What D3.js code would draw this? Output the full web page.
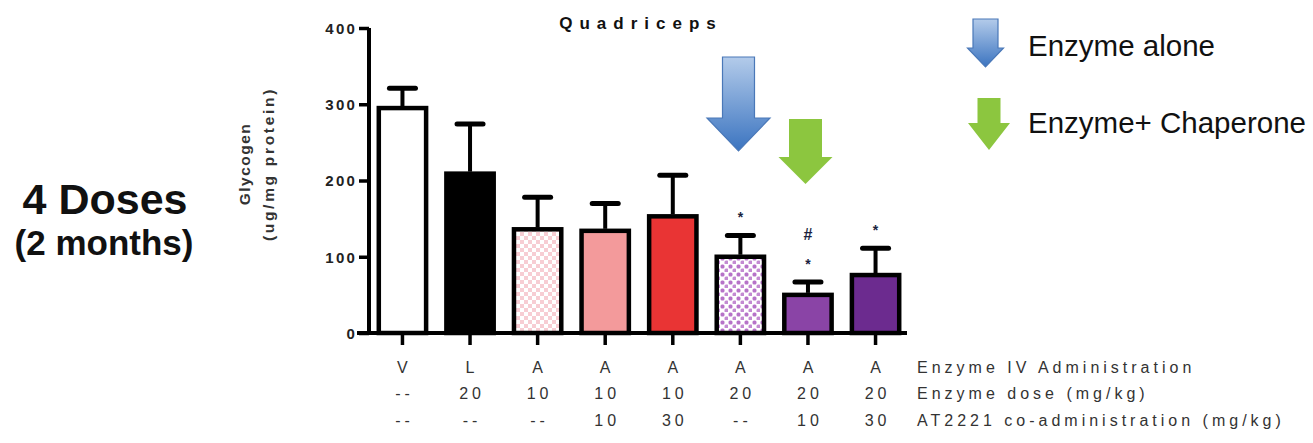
<!DOCTYPE html>
<html>
<head>
<meta charset="utf-8">
<script src="https://cdn.jsdelivr.net/npm/d3@7"></script>
<style>
  body { margin: 0; background: #fff; }
  svg { display: block; }
  text { font-family: "Liberation Sans", Arial, sans-serif; }
</style>
</head>
<body>
<svg id="chart" width="1313" height="443"></svg>
<script>
// data
const groups = ["V", "L", "A", "A", "A", "A", "A", "A"];
const doses = ["--", "20", "10", "10", "10", "20", "20", "20"];
const chaperone = ["--", "--", "--", "10", "30", "--", "10", "30"];
const means = [295, 209, 136, 134, 153, 100, 50, 76];
const errors = [26, 65, 42, 36, 54, 28, 17, 35];
const marks = [[], [], [], [], [], ["*"], ["*", "#"], ["*"]];
const fills = ["#ffffff", "#000000", "url(#checkPink)", "#f39a9b", "#e93434", "url(#dotPurple)", "#8a44a6", "#6c2b8f"];
const yTicks = [0, 100, 200, 300, 400];
const rowLabels = ["Enzyme IV Administration", "Enzyme dose (mg/kg)", "AT2221 co-administration (mg/kg)"];

const svg = d3.select("#chart");
const defs = svg.append("defs");

// patterns
const pk = defs.append("pattern").attr("id", "checkPink")
  .attr("patternUnits", "userSpaceOnUse").attr("width", 8).attr("height", 8);
pk.append("rect").attr("width", 8).attr("height", 8).attr("fill", "#fff");
pk.append("rect").attr("width", 4).attr("height", 4).attr("fill", "#f7cdd3");
pk.append("rect").attr("x", 4).attr("y", 4).attr("width", 4).attr("height", 4).attr("fill", "#f7cdd3");

const pp = defs.append("pattern").attr("id", "dotPurple")
  .attr("patternUnits", "userSpaceOnUse").attr("width", 8).attr("height", 8);
pp.append("rect").attr("width", 8).attr("height", 8).attr("fill", "#fff");
pp.append("rect").attr("x", 0.5).attr("y", 0.5).attr("width", 4).attr("height", 4).attr("rx", 1.5).attr("fill", "#b672c8");
pp.append("rect").attr("x", 4.5).attr("y", 4.5).attr("width", 4).attr("height", 4).attr("rx", 1.5).attr("fill", "#c38ad2");

const blueGrad = defs.append("linearGradient").attr("id", "blueGrad")
  .attr("x1", 0).attr("y1", 0).attr("x2", 0).attr("y2", 1);
blueGrad.append("stop").attr("offset", "0%").attr("stop-color", "#b3cbea");
blueGrad.append("stop").attr("offset", "100%").attr("stop-color", "#3b74c0");

// scales
const x = d3.scaleBand().domain(d3.range(groups.length))
  .range([369, 909]).paddingInner(0.3).paddingOuter(0.145);
const y = d3.scaleLinear().domain([0, 400]).range([333, 28]);

const g = svg.append("g");

// bars
g.selectAll(".bar").data(means).enter().append("rect")
  .attr("class", "bar")
  .attr("x", (d, i) => x(i))
  .attr("y", d => y(d))
  .attr("width", x.bandwidth())
  .attr("height", d => y(0) - y(d))
  .attr("fill", (d, i) => fills[i])
  .attr("stroke", "#000").attr("stroke-width", 4.5);

// error bars
g.selectAll(".err").data(means).enter().append("line")
  .attr("x1", (d, i) => x(i) + x.bandwidth() / 2)
  .attr("x2", (d, i) => x(i) + x.bandwidth() / 2)
  .attr("y1", d => y(d) - 2)
  .attr("y2", (d, i) => y(d + errors[i]))
  .attr("stroke", "#000").attr("stroke-width", 4);
g.selectAll(".cap").data(means).enter().append("line")
  .attr("x1", (d, i) => x(i) + x.bandwidth() / 2 - 13)
  .attr("x2", (d, i) => x(i) + x.bandwidth() / 2 + 13)
  .attr("y1", (d, i) => y(d + errors[i]))
  .attr("y2", (d, i) => y(d + errors[i]))
  .attr("stroke", "#000").attr("stroke-width", 5).attr("stroke-linecap", "round");

// significance marks
means.forEach((m, i) => {
  const top = y(m + errors[i]);
  marks[i].forEach(s => {
    g.append("text")
      .attr("x", x(i) + x.bandwidth() / 2)
      .attr("y", s === "*" ? top - 13 : top - 42)
      .attr("text-anchor", "middle")
      .attr("font-size", s === "*" ? 14 : 16)
      .attr("font-weight", "bold")
      .attr("font-family", "DejaVu Serif, serif")
      .attr("fill", "#1a1f40")
      .text(s);
  });
});

// y axis
const yAxis = d3.axisLeft(y).tickValues(yTicks).tickSize(10).tickPadding(2);
const ya = svg.append("g").attr("transform", "translate(369,0)").call(yAxis);
ya.select(".domain").attr("stroke-width", 4).attr("d", "M0,28V333");
ya.selectAll(".tick line").attr("stroke-width", 3.5);
ya.selectAll(".tick text").attr("font-size", 15).attr("font-weight", "bold")
  .attr("letter-spacing", 2.2).attr("fill", "#222").attr("dy", "0.36em");

// x axis line + ticks
svg.append("line").attr("x1", 357).attr("x2", 907).attr("y1", 333).attr("y2", 333)
  .attr("stroke", "#000").attr("stroke-width", 4);
svg.selectAll(".xt").data(groups).enter().append("line")
  .attr("x1", (d, i) => x(i) + x.bandwidth() / 2)
  .attr("x2", (d, i) => x(i) + x.bandwidth() / 2)
  .attr("y1", 333).attr("y2", 345)
  .attr("stroke", "#000").attr("stroke-width", 3.5);

// category rows
const rows = [groups, doses, chaperone];
const rowY = [373, 399, 426];
rows.forEach((r, k) => {
  svg.selectAll(".row" + k).data(r).enter().append("text")
    .attr("x", (d, i) => x(i) + x.bandwidth() / 2 + 2)
    .attr("y", rowY[k])
    .attr("text-anchor", "middle")
    .attr("font-size", 16).attr("letter-spacing", 4)
    .attr("fill", "#333")
    .text(d => d);
  svg.append("text").attr("x", 917).attr("y", rowY[k])
    .attr("font-size", 16).attr("letter-spacing", 4).attr("fill", "#333")
    .text(rowLabels[k]);
});

// title
svg.append("text").attr("x", 641).attr("y", 29).attr("text-anchor", "middle")
  .attr("font-size", 17).attr("font-weight", "bold").attr("letter-spacing", 7)
  .attr("fill", "#111").text("Quadriceps");

// y label
const yl = svg.append("g").attr("transform", "translate(0,164) rotate(-90)");
yl.append("text").attr("x", 0).attr("y", 250).attr("text-anchor", "middle")
  .attr("font-size", 15.5).attr("font-weight", "bold").attr("letter-spacing", 1.5)
  .attr("fill", "#333").text("Glycogen");
yl.append("text").attr("x", 0).attr("y", 274).attr("text-anchor", "middle")
  .attr("font-size", 15.5).attr("font-weight", "bold").attr("letter-spacing", 2.7)
  .attr("fill", "#333").text("(ug/mg protein)");

// arrows
function arrow(cx, top, headY, tip, shaftW, headW, fill, stroke) {
  const p = d3.path();
  p.moveTo(cx - shaftW / 2, top);
  p.lineTo(cx + shaftW / 2, top);
  p.lineTo(cx + shaftW / 2, headY);
  p.lineTo(cx + headW / 2, headY);
  p.lineTo(cx, tip);
  p.lineTo(cx - headW / 2, headY);
  p.lineTo(cx - shaftW / 2, headY);
  p.closePath();
  svg.append("path").attr("d", p.toString()).attr("fill", fill)
    .attr("stroke", stroke).attr("stroke-width", stroke === "none" ? 0 : 1.2);
}
arrow(738.5, 57, 118, 151, 32, 63, "url(#blueGrad)", "#4a78b8");
arrow(805.5, 119, 157, 184, 33, 54, "#8cc63f", "none");
arrow(985.5, 19, 48, 67, 25, 36, "url(#blueGrad)", "#4a78b8");
arrow(989, 98, 123, 150, 23, 42, "#8cc63f", "none");

// legend text
svg.append("text").attr("x", 1028).attr("y", 56).attr("font-family", "Lato, sans-serif")
  .attr("font-size", 29.5).attr("fill", "#111").text("Enzyme alone");
svg.append("text").attr("x", 1028).attr("y", 133).attr("font-family", "Lato, sans-serif")
  .attr("font-size", 29.5).attr("fill", "#111").text("Enzyme+ Chaperone");

// left title
svg.append("text").attr("x", 105).attr("y", 214).attr("text-anchor", "middle")
  .attr("font-family", "Lato, sans-serif").attr("font-weight", "bold")
  .attr("font-size", 43).attr("fill", "#111").text("4 Doses");
svg.append("text").attr("x", 104).attr("y", 255).attr("text-anchor", "middle")
  .attr("font-family", "Lato, sans-serif").attr("font-weight", "bold")
  .attr("font-size", 35).attr("fill", "#111").text("(2 months)");
</script>
</body>
</html>
